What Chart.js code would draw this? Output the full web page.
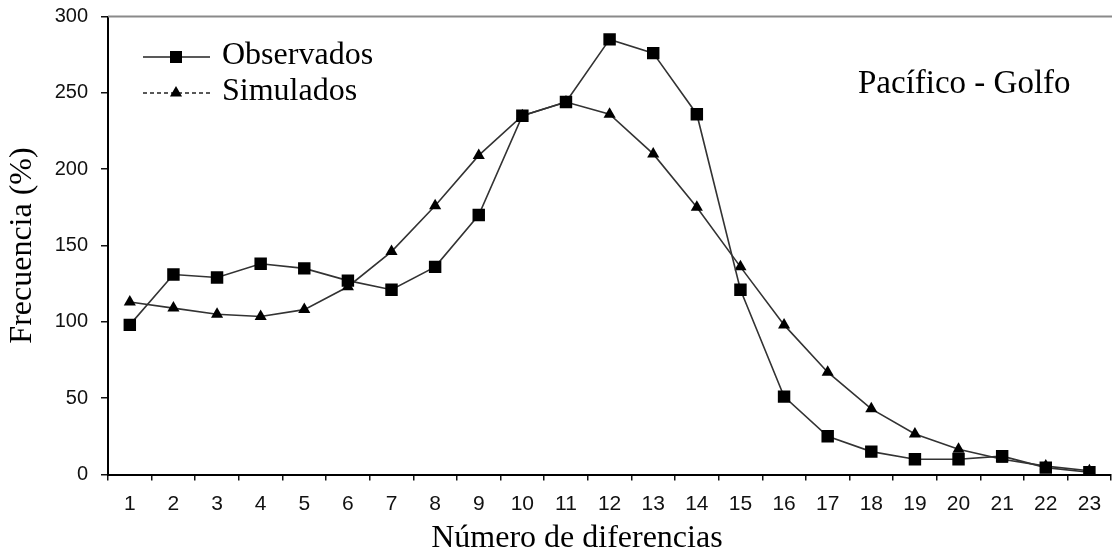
<!DOCTYPE html>
<html>
<head>
<meta charset="utf-8">
<script src="https://cdn.jsdelivr.net/npm/chart.js@4/dist/chart.umd.min.js"></script>
<style>
  html, body { margin: 0; padding: 0; background: #fff; overflow: hidden; }
  #wrap { width: 1112px; height: 554px; overflow: hidden; position: relative; }
  canvas { display: block; }
</style>
</head>
<body>
<div id="wrap"><canvas id="c" width="1120" height="554" style="width:1120px;height:554px"></canvas></div>
<script>
// Número de diferencias (1..23)
const categories = ['1','2','3','4','5','6','7','8','9','10','11','12','13','14','15','16','17','18','19','20','21','22','23'];
// Frecuencia observada
const observados = [98, 131, 129, 138, 135, 127, 121, 136, 170, 235, 244, 285, 276, 236, 121, 51, 25, 15, 10, 10, 12, 4.5, 1.5];
// Frecuencia simulada
const simulados  = [113, 109, 105, 103.5, 108, 123, 146, 176, 209, 235, 244, 236, 210, 175, 136, 98, 67, 43, 26.5, 16.5, 10, 5.5, 2.5];
// Marcas del eje Y
const yTicks = [0, 50, 100, 150, 200, 250, 300];

const serif = '"Liberation Serif", "Times New Roman", serif';
const sans = '"Liberation Sans", Arial, sans-serif';

// Leyenda, etiqueta de región, título del eje X y borde superior
const extras = {
  id: 'extras',
  afterDraw(chart) {
    const { ctx, chartArea, scales: { x } } = chart;
    ctx.save();

    // borde superior del área de trazado
    ctx.strokeStyle = '#8a8a8a';
    ctx.lineWidth = 2;
    ctx.beginPath();
    ctx.moveTo(chartArea.left, chartArea.top);
    ctx.lineTo(chart.width, chartArea.top);
    ctx.stroke();

    // leyenda
    const lx0 = 143, lx1 = 210, mx = 176;
    ctx.strokeStyle = '#222';
    ctx.lineWidth = 1.5;
    ctx.beginPath(); ctx.moveTo(lx0, 57); ctx.lineTo(lx1, 57); ctx.stroke();
    ctx.fillStyle = '#000';
    ctx.fillRect(mx - 6, 57 - 6, 12, 12);

    ctx.setLineDash([4, 3]);
    ctx.beginPath(); ctx.moveTo(lx0, 93); ctx.lineTo(lx1, 93); ctx.stroke();
    ctx.setLineDash([]);
    const r = 7;
    ctx.beginPath();
    ctx.moveTo(mx, 93 - r);
    ctx.lineTo(mx + 0.866 * r, 93 + 0.5 * r);
    ctx.lineTo(mx - 0.866 * r, 93 + 0.5 * r);
    ctx.closePath();
    ctx.fill();

    ctx.font = '32px ' + serif;
    ctx.textAlign = 'left';
    ctx.textBaseline = 'middle';
    ctx.fillText('Observados', 222, 56);
    ctx.fillText('Simulados', 222, 92);

    // región
    ctx.font = '33px ' + serif;
    ctx.fillText('Pacífico - Golfo', 858, 84);

    // título del eje X
    ctx.font = '32px ' + serif;
    ctx.textAlign = 'center';
    ctx.fillText('Número de diferencias', x.getPixelForValue(10.25), 539);

    ctx.restore();
  }
};

new Chart(document.getElementById('c'), {
  type: 'line',
  data: {
    labels: categories,
    datasets: [
      {
        label: 'Observados',
        data: observados,
        borderColor: '#333',
        borderWidth: 1.6,
        backgroundColor: '#000',
        pointStyle: 'rect',
        pointRadius: 8.8,
        pointBorderWidth: 0,
        pointBackgroundColor: '#000',
        tension: 0,
        order: 1
      },
      {
        label: 'Simulados',
        data: simulados,
        borderColor: '#333',
        borderWidth: 1.6,
        backgroundColor: '#000',
        pointStyle: 'triangle',
        pointRadius: 7,
        pointBorderWidth: 0,
        pointBackgroundColor: '#000',
        tension: 0,
        order: 2
      }
    ]
  },
  options: {
    responsive: false,
    animation: false,
    devicePixelRatio: 1,
    layout: { padding: { top: 16.5, right: 2, left: 0, bottom: 0 } },
    plugins: {
      legend: { display: false },
      tooltip: { enabled: false }
    },
    scales: {
      x: {
        type: 'category',
        offset: true,
        grid: {
          offset: true,
          drawOnChartArea: false,
          drawTicks: true,
          tickLength: 6,
          color: '#111',
          lineWidth: 1.5
        },
        border: { display: true, color: '#000', width: 2 },
        ticks: {
          color: '#111',
          font: { family: sans, size: 21 },
          padding: 11,
          maxRotation: 0,
          autoSkip: false
        },
        afterFit(scale) {
          scale.height = 79.5;
          scale.paddingLeft = 0;
          scale.paddingRight = 0;
        }
      },
      y: {
        min: 0,
        max: 300,
        afterBuildTicks(scale) { scale.ticks = yTicks.map(v => ({ value: v })); },
        grid: {
          drawOnChartArea: false,
          drawTicks: true,
          tickLength: 7,
          color: '#111',
          lineWidth: 1.5
        },
        border: { display: true, color: '#000', width: 2 },
        ticks: {
          color: '#111',
          font: { family: sans, size: 20 },
          padding: 13
        },
        title: {
          display: true,
          text: 'Frecuencia (%)',
          color: '#000',
          font: { family: serif, size: 32 },
          padding: { top: 3, bottom: 0 }
        },
        afterFit(scale) {
          scale.width = 108;
          scale.paddingTop = 0;
          scale.paddingBottom = 0;
        }
      }
    }
  },
  plugins: [extras]
});
</script>
</body>
</html>
